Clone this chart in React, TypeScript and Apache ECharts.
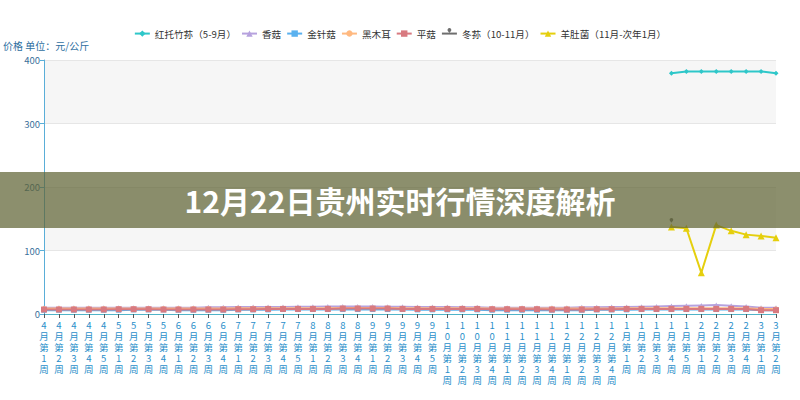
import React, { useEffect, useRef } from 'react';
import * as echarts from 'echarts';

const categories = [
  '4月第1周', '4月第2周', '4月第3周', '4月第4周', '4月第5周',
  '5月第1周', '5月第2周', '5月第3周', '5月第4周',
  '6月第1周', '6月第2周', '6月第3周', '6月第4周',
  '7月第1周', '7月第2周', '7月第3周', '7月第4周', '7月第5周',
  '8月第1周', '8月第2周', '8月第3周', '8月第4周',
  '9月第1周', '9月第2周', '9月第3周', '9月第4周', '9月第5周',
  '10月第1周', '10月第2周', '10月第3周', '10月第4周',
  '11月第1周', '11月第2周', '11月第3周', '11月第4周',
  '12月第1周', '12月第2周', '12月第3周', '12月第4周',
  '1月第1周', '1月第2周', '1月第3周', '1月第4周', '1月第5周',
  '2月第1周', '2月第2周', '2月第3周', '2月第4周',
  '3月第1周', '3月第2周',
];

const seriesNames = ['红托竹荪（5-9月）', '香菇', '金针菇', '黑木耳', '平菇', '冬荪（10-11月）', '羊肚菌（11月-次年1月）'];

const hongtuoWeeks = ['1月第4周', '1月第5周', '2月第1周', '2月第2周', '2月第3周', '2月第4周', '3月第1周', '3月第2周'];
const hongtuoValues = [379, 382, 382, 382, 382, 382, 382, 379];

const xianggu = [10, 10, 10, 10, 10, 10, 10, 10, 10, 10, 10, 10.5, 10.5, 11, 11, 11, 11, 11.5, 11.5, 12, 12, 12, 12, 11.5, 11.5, 11, 11, 11, 10.5, 10.5, 10, 10, 10, 10, 10, 10, 10.5, 10.5, 11, 11, 11.5, 12, 12.5, 13, 13.5, 14, 13, 12, 10, 10];
const jinzhengu = [6, 6, 6, 6, 6, 6, 6.5, 6.5, 6.5, 6, 6, 6, 6, 6.5, 6.5, 6.5, 7, 7, 7, 7, 7, 7, 7, 7, 7, 6.5, 6.5, 6.5, 6.5, 6.5, 6, 6, 6, 6, 6, 6, 6, 6.5, 6.5, 6.5, 7, 7, 7, 7, 7, 7, 7, 7, 6, 6];
const heimuer = [8.5, 8.5, 8.5, 8.5, 8.5, 8.5, 8.5, 8.5, 8.5, 8.5, 8.5, 8.5, 8.5, 9, 9, 9, 9, 9, 9, 9, 9.5, 9.5, 9.5, 9.5, 9, 9, 9, 9, 9, 9, 8.5, 8.5, 8.5, 8.5, 8.5, 8.5, 8.5, 8.5, 8.5, 9, 9, 9, 9, 9, 9, 9, 9, 9, 8, 8];
const pinggu = [7, 7, 7, 7, 7, 7.5, 7.5, 7.5, 7, 7, 7, 7, 7, 7.5, 7.5, 8, 8, 8, 8, 8, 8.5, 8.5, 8.5, 8.5, 8, 8, 8, 8, 8, 8, 7.5, 7.5, 7.5, 7.5, 7, 7, 7, 7.5, 7.5, 8, 8, 8, 8, 8, 8, 8, 8, 8, 6, 6];

const dongsunWeeks = ['1月第4周'];
const dongsunValues = [143];

const yangduWeeks = ['1月第4周', '1月第5周', '2月第1周', '2月第2周', '2月第3周', '2月第4周', '3月第1周', '3月第2周'];
const yangduValues = [137, 135, 65, 140, 131, 125, 123, 120];

const yTicks = [0, 100, 200, 300, 400];

const colors = ['#2ec7c9', '#b6a2de', '#5ab1ef', '#ffb980', '#d87a80', '#8d98b3', '#e5cf0d'];
const FONT = '"Noto Sans CJK SC", "Noto Sans", sans-serif';

export default function App() {
  const ref = useRef<HTMLDivElement>(null);
  useEffect(() => {
    document.body.style.margin = '0';
    const chart = echarts.init(ref.current!, undefined, { renderer: 'svg' });
    const pair = (weeks: string[], vals: number[]) => weeks.map((w, i) => [w, vals[i]]);
    const lineSeries = (name: string, data: any, color: string, symbol: string, symbolSize: number, z = 2) => ({
      name,
      type: 'line',
      data,
      symbol,
      symbolSize,
      z,
      lineStyle: { color, width: 2 },
      itemStyle: { color },
      connectNulls: false,
    });
    chart.setOption({
      animation: false,
      color: colors,
      textStyle: { fontFamily: FONT },
      legend: {
        top: 23,
        left: 'center',
        itemWidth: 15,
        itemHeight: 8,
        itemGap: 5,
        textStyle: { fontSize: 9.6, color: '#333', fontFamily: FONT },
        data: seriesNames,
      },
      grid: { left: 44, right: 24, top: 60, bottom: 86 },
      xAxis: {
        type: 'category',
        data: categories,
        boundaryGap: false,
        axisLine: { lineStyle: { color: '#4fb3c8', width: 1 } },
        axisTick: { show: true, inside: false, length: 4, lineStyle: { color: '#555' } },
        axisLabel: {
          interval: 0,
          margin: 5,
          fontSize: 9.5,
          lineHeight: 11,
          color: '#2b8fca',
          fontFamily: FONT,
          formatter: (v: string) => v.split('').join('\n'),
        },
      },
      yAxis: {
        type: 'value',
        min: yTicks[0],
        max: yTicks[yTicks.length - 1],
        interval: 100,
        axisLine: { show: true, lineStyle: { color: '#5aaed8' } },
        axisTick: { show: true, length: 4, lineStyle: { color: '#5aaed8' } },
        axisLabel: { fontSize: 9.5, color: '#3a6f9a', margin: 4, fontFamily: FONT },
        splitLine: { show: true, lineStyle: { color: '#e6e6e6' } },
        splitArea: { show: true, areaStyle: { color: ['rgba(255,255,255,1)', 'rgba(246,246,246,1)'] } },
      },
      graphic: [
        {
          type: 'text',
          left: 3,
          top: 40,
          style: { text: '价格 单位：元/公斤', fontSize: 10, fill: '#2f6f9f', fontFamily: FONT },
        },
        {
          type: 'rect',
          left: 0,
          top: 172,
          z: 100,
          shape: { width: 800, height: 56 },
          style: { fill: 'rgba(95,100,52,0.72)' },
        },
        {
          type: 'text',
          x: 400,
          y: 200,
          z: 101,
          style: {
            text: '12月22日贵州实时行情深度解析',
            fontSize: 30,
            fontWeight: 'bold',
            fill: '#ffffff',
            align: 'center',
            verticalAlign: 'middle',
            fontFamily: FONT,
          },
        },
      ],
      series: [
        lineSeries(seriesNames[0], pair(hongtuoWeeks, hongtuoValues), colors[0], 'diamond', 5),
        lineSeries(seriesNames[1], xianggu, colors[1], 'triangle', 5),
        lineSeries(seriesNames[2], jinzhengu, colors[2], 'rect', 5),
        lineSeries(seriesNames[3], heimuer, colors[3], 'circle', 5),
        lineSeries(seriesNames[4], pinggu, colors[4], 'rect', 6, 3),
        lineSeries(seriesNames[5], pair(dongsunWeeks, dongsunValues), '#6e6e6e', 'pin', 6),
        lineSeries(seriesNames[6], pair(yangduWeeks, yangduValues), colors[6], 'triangle', 7),
      ],
    });
    return () => chart.dispose();
  }, []);
  return <div ref={ref} style={{ width: 800, height: 400 }} />;
}
